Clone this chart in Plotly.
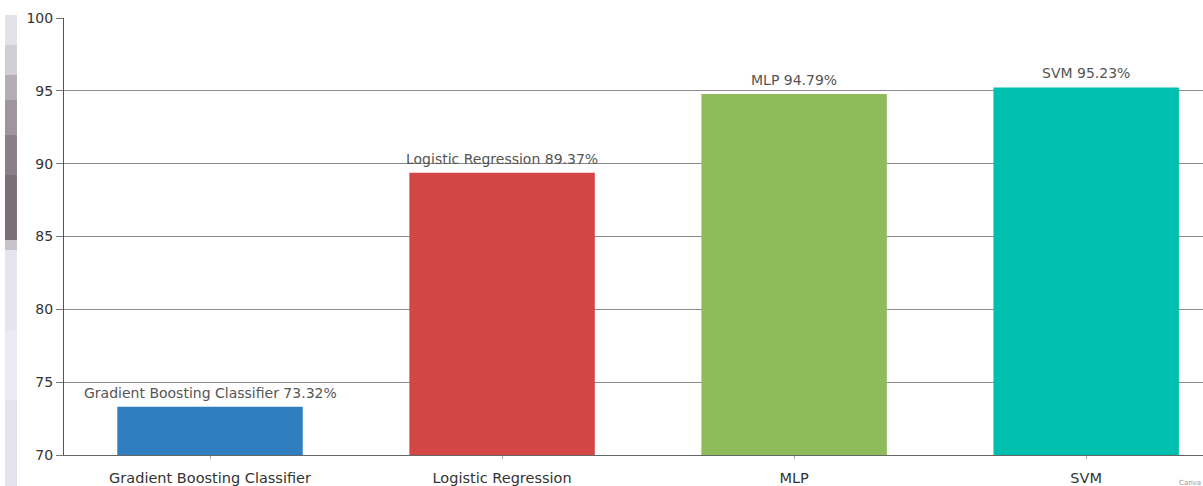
import plotly.graph_objects as go

categories = ["Gradient Boosting Classifier", "Logistic Regression", "MLP", "SVM"]
accuracy = [73.32, 89.37, 94.79, 95.23]
bar_colors = ["#2f7ec0", "#d24646", "#8fbb5b", "#00bfae"]
y_ticks = [70, 75, 80, 85, 90, 95, 100]

labels = [f"{c} {v:.2f}%" for c, v in zip(categories, accuracy)]

fig = go.Figure()
fig.add_trace(go.Bar(
    x=list(range(len(categories))),
    y=[v - 70 for v in accuracy],
    base=70,
    width=0.635,
    marker=dict(color=bar_colors, line=dict(width=0)),
    hoverinfo="skip",
))

# left decorative strip (photo edge), pixel rows converted to paper coords
def py(pix):
    return (455 - pix) / 437.0

strip = [
    (15, 45, "#e4e2e8"),
    (45, 75, "#d2ced6"),
    (75, 100, "#b4adb6"),
    (100, 135, "#9e959f"),
    (135, 175, "#8a7f88"),
    (175, 240, "#7b6f77"),
    (240, 250, "#c8c2ca"),
    (250, 330, "#e6e4ee"),
    (330, 400, "#eceaf2"),
    (400, 486, "#e4e2ea"),
]
shapes = []
for p0, p1, col in strip:
    shapes.append(dict(type="rect", xref="paper", yref="paper",
                       x0=-0.0518, x1=-0.0413, y0=py(p1), y1=py(p0),
                       fillcolor=col, line=dict(width=0), layer="below"))

annotations = []
for i, (lab, v) in enumerate(zip(labels, accuracy)):
    annotations.append(dict(
        x=i, y=v, xref="x", yref="y", text=lab, showarrow=False,
        xanchor="center", yanchor="bottom", yshift=4,
        font=dict(family="DejaVu Sans", size=14, color="#555555"),
    ))
annotations.append(dict(
    text="Canva", xref="paper", yref="paper", x=1.0, y=-0.05,
    xanchor="right", yanchor="top", showarrow=False,
    font=dict(family="DejaVu Sans", size=7, color="#999999"),
))

fig.update_layout(
    width=1203, height=486,
    margin=dict(l=64, r=0, t=18, b=31),
    paper_bgcolor="white", plot_bgcolor="white",
    showlegend=False,
    shapes=shapes,
    xaxis=dict(
        range=[-0.5, 3.40],
        tickmode="array",
        tickvals=list(range(len(categories))),
        ticktext=categories,
        tickfont=dict(family="DejaVu Sans", size=14.5, color="#333333"),
        showline=True, linecolor="#666666", linewidth=1,
        ticks="outside", ticklen=3, tickcolor="#aaaaaa",
        ticklabelstandoff=7,
        showgrid=False, zeroline=False,
    ),
    yaxis=dict(
        range=[70, 100],
        tickmode="array",
        tickvals=y_ticks,
        tickfont=dict(family="DejaVu Sans", size=14, color="#333333"),
        showline=True, linecolor="#555555", linewidth=1,
        ticks="outside", ticklen=7, tickcolor="#777777",
        showgrid=True, gridcolor="#8c8c8c", gridwidth=1,
        zeroline=False,
    ),
    annotations=annotations,
)

fig.write_html("out.html")
